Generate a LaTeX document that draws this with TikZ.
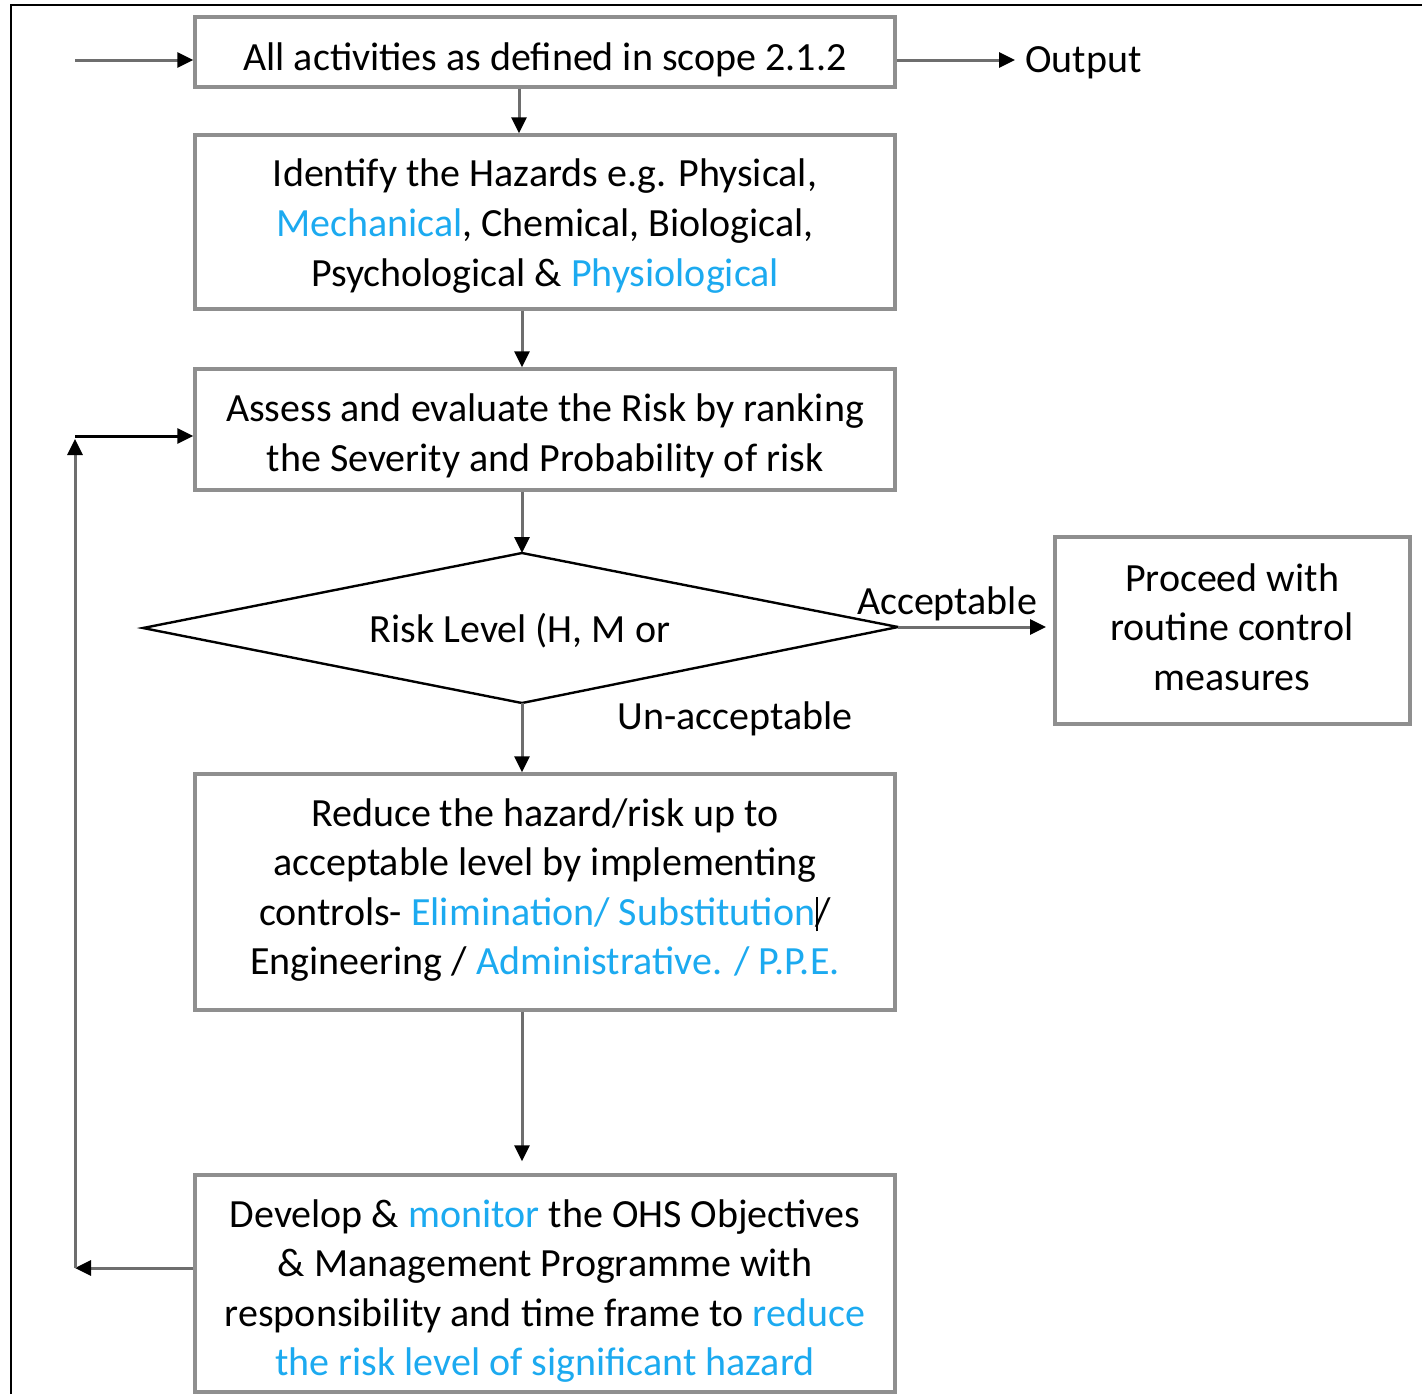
\documentclass[tikz,border=0pt]{standalone}
\usepackage{fontspec}
\setmainfont{Carlito}
\usetikzlibrary{arrows.meta}
\definecolor{hl}{HTML}{1CAAF0}
\definecolor{boxgray}{HTML}{8F8F8F}
\definecolor{linegray}{HTML}{6E6E6E}
\begin{document}
\begin{tikzpicture}[x=0.5pt,y=-0.5pt,
  every node/.style={font=\fontsize{20}{24.8}\selectfont, text=black},
  flowbox/.style={draw=boxgray, line width=1.7pt, inner sep=0pt},
  txt/.style={align=center, inner sep=0pt},
  arr/.style={draw=linegray, line width=1.5pt, -{Triangle[length=8pt,width=7.5pt,color=black]}},
  lbl/.style={inner sep=0pt}]
\useasboundingbox (0,0) rectangle (1422,1394);
\fill[white] (0,0) rectangle (1422,1394);
% outer frame
\draw[line width=1.2pt] (11,1394) -- (11,5) -- (1422,5);

% boxes
\node[flowbox, minimum width=350pt, minimum height=35pt] (b1) at (545,52) {};
\node[txt] (b1t) at (545,60) {All activities as defined in scope 2.1.2};
\node[flowbox, minimum width=350pt, minimum height=87pt] (b2) at (545,222) {};
\node[txt] (b2t) at (545,226) {Identify the Hazards e.g. Physical,\\ \textcolor{hl}{Mechanical}, Chemical, Biological,\\ Psychological \& \textcolor{hl}{Physiological}};
\node[flowbox, minimum width=350pt, minimum height=60.5pt] (b3) at (545,429.5) {};
\node[txt] (b3t) at (545,436) {Assess and evaluate the Risk by ranking\\ the Severity and Probability of risk};
\node[flowbox, minimum width=350pt, minimum height=118pt] (b5) at (545,892) {};
\node[txt] (b5t) at (545,890) {Reduce the hazard/risk up to\\ acceptable level by implementing\\ controls- \textcolor{hl}{Elimination/ Substitution}\rule[-3pt]{1pt}{17pt}\kern-1pt/\\ Engineering / \textcolor{hl}{Administrative. / P.P.E.}};
\node[flowbox, minimum width=350pt, minimum height=108.5pt] (b6) at (545,1283.5) {};
\node[txt] (b6t) at (545,1291) {Develop \& \textcolor{hl}{monitor} the OHS Objectives\\ \& Management Programme with\\ responsibility and time frame to \textcolor{hl}{reduce}\\ \textcolor{hl}{the risk level of significant hazard}};
\node[flowbox, minimum width=177.5pt, minimum height=93.5pt] (b4) at (1232.5,630.5) {};
\node[txt] (b4t) at (1232,627) {Proceed with\\ routine control\\ measures};

% diamond
\coordinate (dt) at (522,553);
\coordinate (db) at (522,703);
\coordinate (dl) at (143,628);
\coordinate (dr) at (898,627);
\draw[line width=1.2pt, line join=miter] (dt) -- (dr) -- (db) -- (dl) -- cycle;
\node[lbl] (dtext) at (520,631) {Risk Level (H, M or};

% labels
\node[lbl, anchor=west] (out) at (1025,63) {Output};
\node[lbl] (acc) at (947,604) {Acceptable};
\node[lbl, anchor=west] (unacc) at (617,719) {Un-acceptable};

% helper coordinates
\coordinate (in) at (75,60);
\coordinate (outEnd) at (1015,60);
\coordinate (x519) at (519,0);
\coordinate (x522) at (522,0);
\coordinate (accEnd) at (1046,627);
\coordinate (fbBottom) at (75,1268);
\coordinate (fbTop) at (75,439);
\coordinate (fbCorner) at (75,436);

% connectors
\draw[arr] (in) -- (b1.west |- in);
\draw[arr] (b1.east |- in) -- (outEnd);
\draw[arr] (b1.south -| x519) -- (b2.north -| x519);
\draw[arr] (b2.south -| x522) -- (b3.north -| x522);
\draw[arr] (b3.south -| x522) -- (dt);
\draw[arr] (dr) -- (accEnd);
\draw[arr] (db) -- (b5.north -| x522);
\draw[arr, shorten >=6pt] (b5.south -| x522) -- (b6.north -| x522);
\draw[arr] (b6.west |- fbBottom) -- (fbBottom);
\draw[arr] (fbBottom) -- (fbTop);
\draw[arr, draw=black] (fbCorner) -- (b3.west |- fbCorner);
\end{tikzpicture}
\end{document}
